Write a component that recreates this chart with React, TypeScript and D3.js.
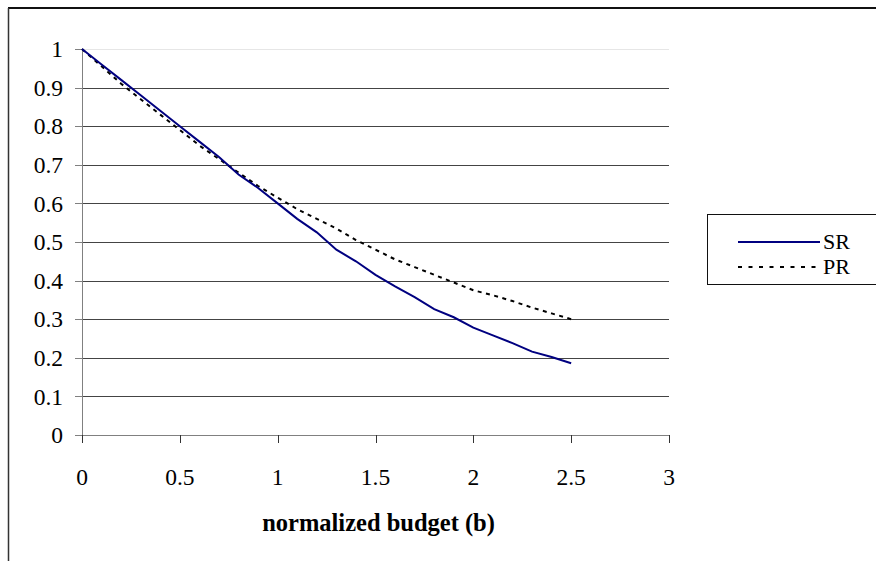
import React from "react";
import * as d3 from "d3";

// Normalized budget (b) sampled every 0.1
const budget = [0, 0.1, 0.2, 0.3, 0.4, 0.5, 0.6, 0.7, 0.8, 0.9, 1.0, 1.1, 1.2, 1.3, 1.4, 1.5, 1.6, 1.7, 1.8, 1.9, 2.0, 2.1, 2.2, 2.3, 2.4, 2.5];
const srValues = [1.0, 0.96, 0.92, 0.88, 0.84, 0.8, 0.76, 0.72, 0.675, 0.64, 0.6, 0.56, 0.525, 0.48, 0.45, 0.415, 0.385, 0.357, 0.326, 0.305, 0.278, 0.258, 0.238, 0.216, 0.202, 0.186];
const prValues = [1.0, 0.955, 0.91, 0.87, 0.83, 0.79, 0.75, 0.715, 0.68, 0.645, 0.615, 0.585, 0.56, 0.535, 0.505, 0.48, 0.455, 0.435, 0.415, 0.395, 0.375, 0.362, 0.347, 0.33, 0.315, 0.3];
const xTicks = [0, 0.5, 1, 1.5, 2, 2.5, 3];
const yTicks = [0, 0.1, 0.2, 0.3, 0.4, 0.5, 0.6, 0.7, 0.8, 0.9, 1];
const seriesNames = ["SR", "PR"];

const W = 876;
const H = 561;
const plot = { left: 82, right: 669, top: 49, bottom: 435 };
const font = "Liberation Serif, DejaVu Serif, serif";

export default function App() {
  const x = d3.scaleLinear().domain([0, 3]).range([plot.left, plot.right]);
  const y = d3.scaleLinear().domain([0, 1]).range([plot.bottom, plot.top]);

  const line = d3
    .line<number>()
    .x((_, i) => x(budget[i]))
    .y((d) => y(d));

  const txt = { fontFamily: font };

  return (
    <svg
      width={W}
      height={H}
      style={{ position: "absolute", left: 0, top: 0, background: "#fff", fontFamily: font }}
    >
      <rect x={0} y={0} width={W} height={H} fill="#fff" />
      {/* outer chart frame (top and left edges) */}
      <line x1={8} y1={8} x2={W} y2={8} stroke="#111" strokeWidth={2} />
      <line x1={8.5} y1={8} x2={8.5} y2={H} stroke="#333" strokeWidth={1.5} />

      {/* horizontal gridlines */}
      {yTicks
        .filter((t) => t > 0)
        .map((t) => (
          <line
            key={"g" + t}
            x1={plot.left}
            x2={plot.right}
            y1={Math.round(y(t)) + 0.5}
            y2={Math.round(y(t)) + 0.5}
            stroke={t === 1 ? "#e6e6e6" : "#444"}
            strokeWidth={1}
          />
        ))}

      {/* axes */}
      <line x1={plot.left + 0.5} x2={plot.left + 0.5} y1={plot.top} y2={plot.bottom} stroke="#808080" />
      <line x1={plot.left} x2={plot.right} y1={plot.bottom + 0.5} y2={plot.bottom + 0.5} stroke="#808080" strokeWidth={1.2} />
      {yTicks.map((t) => (
        <g key={"y" + t}>
          <line x1={plot.left - 7} x2={plot.left} y1={Math.round(y(t)) + 0.5} y2={Math.round(y(t)) + 0.5} stroke="#808080" />
          <text x={63} y={y(t)} dy="0.35em" textAnchor="end" fontSize={23.5} fill="#000" style={txt}>
            {d3.format("")(t)}
          </text>
        </g>
      ))}
      {xTicks.map((t) => (
        <g key={"x" + t}>
          <line x1={Math.round(x(t)) + 0.5} x2={Math.round(x(t)) + 0.5} y1={plot.bottom} y2={plot.bottom + 8} stroke="#333" />
          <text x={x(t)} y={485} textAnchor="middle" fontSize={23.5} fill="#000" style={txt}>
            {d3.format("")(t)}
          </text>
        </g>
      ))}
      <text x={(plot.left + plot.right) / 2 + 3} y={531} textAnchor="middle" fontSize={24.5} fontWeight="bold" fill="#000" style={txt}>
        normalized budget (b)
      </text>

      {/* series */}
      <path d={line(prValues) ?? ""} fill="none" stroke="#000" strokeWidth={2} strokeDasharray="4,4.5" />
      <path d={line(srValues) ?? ""} fill="none" stroke="#000080" strokeWidth={2} />

      {/* legend */}
      <rect x={707.5} y={214.5} width={W} height={70} fill="#fff" stroke="#111" strokeWidth={1} />
      <line x1={738} x2={820} y1={242} y2={242} stroke="#000080" strokeWidth={2} />
      <text x={823} y={241.5} dy="0.35em" fontSize={22} fill="#000" style={txt}>{seriesNames[0]}</text>
      <line x1={738} x2={818} y1={267} y2={267} stroke="#000" strokeWidth={2} strokeDasharray="4,6.5" />
      <text x={823} y={266.5} dy="0.35em" fontSize={22} fill="#000" style={txt}>{seriesNames[1]}</text>
    </svg>
  );
}
